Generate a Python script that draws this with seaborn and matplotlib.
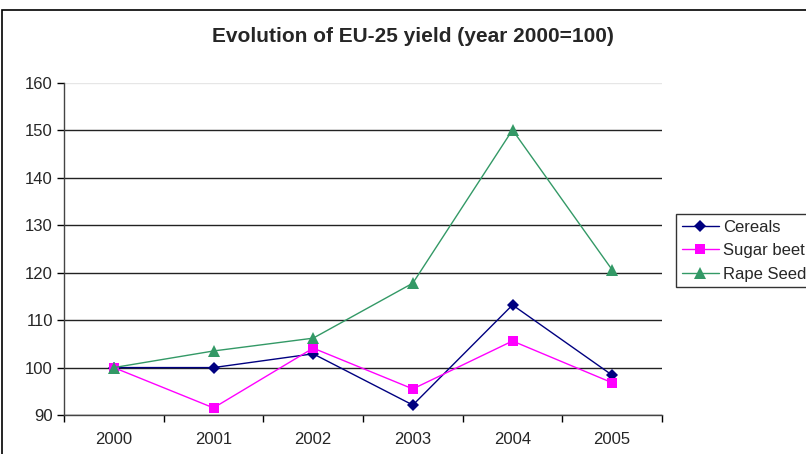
import numpy as np
import pandas as pd
import seaborn as sns
import matplotlib.pyplot as plt
from matplotlib.patches import Rectangle
from matplotlib.ticker import FixedLocator

years = ['2000', '2001', '2002', '2003', '2004', '2005']
cereals = [100, 100, 102.9, 92.1, 113.2, 98.4]
sugar_beet = [100, 91.5, 104.1, 95.5, 105.6, 96.8]
rape_seed = [100, 103.5, 106.2, 117.8, 150.1, 120.6]
series = ['Cereals', 'Sugar beet', 'Rape Seed']
colors = ['#000080', '#FF00FF', '#339966']
markers = ['D', 's', '^']

df = pd.DataFrame({
    'pos': list(range(len(years))) * 3,
    'value': cereals + sugar_beet + rape_seed,
    'crop': [s for s in series for _ in years],
})

sns.set_style('white')
plt.rcParams['font.family'] = ['Liberation Sans', 'DejaVu Sans']

fig = plt.figure(figsize=(8.06, 4.54), dpi=100)
ax = fig.add_axes([64 / 806, 1 - 415 / 454, (662 - 64) / 806, (415 - 83) / 454])

sns.lineplot(data=df, x='pos', y='value', hue='crop', style='crop',
             palette=dict(zip(series, colors)), markers=dict(zip(series, markers)),
             dashes=False, linewidth=1, markersize=6.5, markeredgewidth=0, ax=ax)
# triangles look a bit larger in the original
for line in ax.get_lines():
    if line.get_marker() == '^':
        line.set_markersize(8.5)

ax.set_xlim(-0.5, len(years) - 0.5)
ax.set_ylim(90, 160)
ax.set_yticks(range(90, 161, 10))
ax.set_xticks(range(len(years)))
ax.set_xticklabels(years)
ax.xaxis.set_minor_locator(FixedLocator(np.arange(-0.5, len(years), 1.0)))
ax.tick_params(axis='x', which='major', length=0, pad=12, labelsize=12)
ax.tick_params(axis='x', which='minor', length=5, width=1, color='black', direction='out', bottom=True)
ax.tick_params(axis='y', length=5, width=1, color='black', direction='out', left=True, labelsize=12, pad=3)
ax.set_xlabel('')
ax.set_ylabel('')

ax.grid(axis='y', color='#222222', linewidth=1)
ax.get_ygridlines()[-1].set_color('#e6e6e6')
for side in ['top', 'right']:
    ax.spines[side].set_visible(False)
for side in ['left', 'bottom']:
    ax.spines[side].set_color('#444444')
    ax.spines[side].set_linewidth(1)

fig.text(413 / 806, 1 - 37 / 454, 'Evolution of EU-25 yield (year 2000=100)',
         ha='center', va='center', fontsize=15, fontweight='bold')

leg = ax.legend(loc='upper left', bbox_to_anchor=(676 / 806, 1 - 214 / 454),
                bbox_transform=fig.transFigure, frameon=True, fancybox=False,
                fontsize=12, borderpad=0.35, handlelength=2.2, labelspacing=0.5,
                borderaxespad=0, handletextpad=0.25)
leg.get_frame().set_edgecolor('black')
leg.get_frame().set_linewidth(1)
for h in leg.legend_handles:
    if h.get_marker() == '^':
        h.set_markersize(8.5)

fig.patches.append(Rectangle((2 / 806, -0.1), 1.2, 1 - 10 / 454 + 0.1,
                             transform=fig.transFigure, fill=False,
                             edgecolor='black', linewidth=1.2))

fig.savefig('out.png', dpi=100)
